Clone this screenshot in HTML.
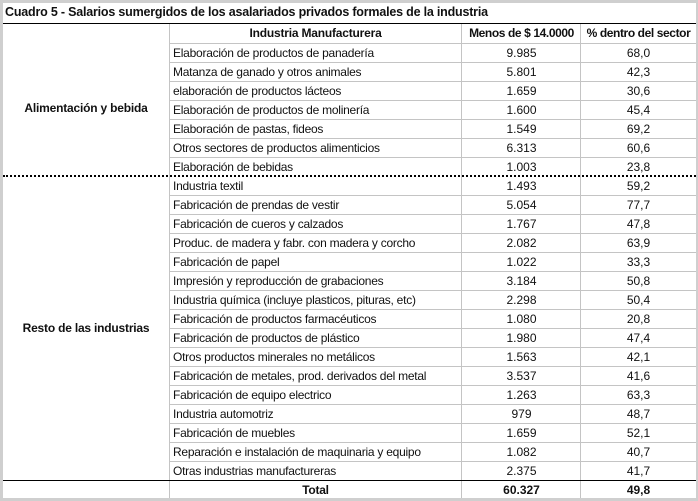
<!DOCTYPE html>
<html><head><meta charset="utf-8"><style>
*{margin:0;padding:0;box-sizing:border-box}
body{width:698px;height:501px;background:#fff;position:relative;overflow:hidden;font-family:"Liberation Sans",sans-serif;font-size:12px;color:#111}
.frame{position:absolute;left:0;top:0;width:698px;height:501px;border:3px solid #cfcfcf;border-right-width:2px}
.title{position:absolute;left:5px;top:5px;font-weight:bold;font-size:12.5px;letter-spacing:-0.2px}
.hl{position:absolute;left:3px;width:693px;height:0}
.vl{position:absolute;width:0;border-left:1px solid #c4c4c4}
.row{position:absolute;left:0;width:698px;height:19px;line-height:19px}
.row span{position:absolute;top:0;white-space:nowrap}
.c2{left:173px;letter-spacing:-0.25px}
.c3{left:462px;width:119px;text-align:center}
.c4{left:581px;width:115px;text-align:center}
.b{font-weight:bold}
.grp{position:absolute;left:3px;width:166px;text-align:center;font-weight:bold;letter-spacing:-0.2px}
</style></head><body>
<div class="frame"></div>
<div class="title">Cuadro 5 - Salarios sumergidos de los asalariados privados formales de la industria</div>
<div class="hl" style="top:23px;border-top:1.5px solid #000"></div>
<div class="vl" style="left:169px;top:24px;height:474px"></div>
<div class="vl" style="left:461px;top:24px;height:474px"></div>
<div class="vl" style="left:580px;top:24px;height:474px"></div>
<div class="row b" style="top:24px"><span class="c2" style="left:170px;width:291px;text-align:center;letter-spacing:-0.2px">Industria Manufacturera</span><span class="c3" style="letter-spacing:-0.4px">Menos de $ 14.0000</span><span class="c4" style="letter-spacing:-0.4px">% dentro del sector</span></div>
<div id="rows"></div>
<div class="grp" style="top:101px">Alimentación y bebida</div>
<div class="grp" style="top:321px">Resto de las industrias</div>
<div class="hl" style="top:175px;border-top:2px dotted #000"></div>
<div class="hl" style="top:480px;border-top:1.5px solid #000"></div>
<div class="row b" style="top:481px"><span class="c2" style="left:170px;width:291px;text-align:center">Total</span><span class="c3">60.327</span><span class="c4">49,8</span></div>
<script>
var d=[["Elaboración de productos de panadería","9.985","68,0"],["Matanza de ganado y otros animales","5.801","42,3"],["elaboración de productos lácteos","1.659","30,6"],["Elaboración de productos de molinería","1.600","45,4"],["Elaboración de pastas, fideos","1.549","69,2"],["Otros sectores de productos alimenticios","6.313","60,6"],["Elaboración de bebidas","1.003","23,8"],["Industria textil","1.493","59,2"],["Fabricación de prendas de vestir","5.054","77,7"],["Fabricación de cueros y calzados","1.767","47,8"],["Produc. de madera y fabr. con madera y corcho","2.082","63,9"],["Fabricación de papel","1.022","33,3"],["Impresión y reproducción de grabaciones","3.184","50,8"],["Industria química (incluye plasticos, pituras, etc)","2.298","50,4"],["Fabricación de productos farmacéuticos","1.080","20,8"],["Fabricación de productos de plástico","1.980","47,4"],["Otros productos minerales no metálicos","1.563","42,1"],["Fabricación de metales, prod. derivados del metal","3.537","41,6"],["Fabricación de equipo electrico","1.263","63,3"],["Industria automotriz","979","48,7"],["Fabricación de muebles","1.659","52,1"],["Reparación e instalación de maquinaria y equipo","1.082","40,7"],["Otras industrias manufactureras","2.375","41,7"]];
var h="";
h+='<div class="hl" style="top:43px;border-top:1px solid #c4c4c4;left:169px;width:527px"></div>';
for(var i=0;i<d.length;i++){var t=43+i*19;
h+='<div class="row" style="top:'+(t+0.5)+'px"><span class="c2">'+d[i][0]+'</span><span class="c3">'+d[i][1]+'</span><span class="c4">'+d[i][2]+'</span></div>';
if(i!=6&&i<d.length-1)h+='<div class="hl" style="top:'+(t+19)+'px;border-top:1px solid #c4c4c4;left:169px;width:527px"></div>';}
document.getElementById("rows").innerHTML=h;
</script>
</body></html>
